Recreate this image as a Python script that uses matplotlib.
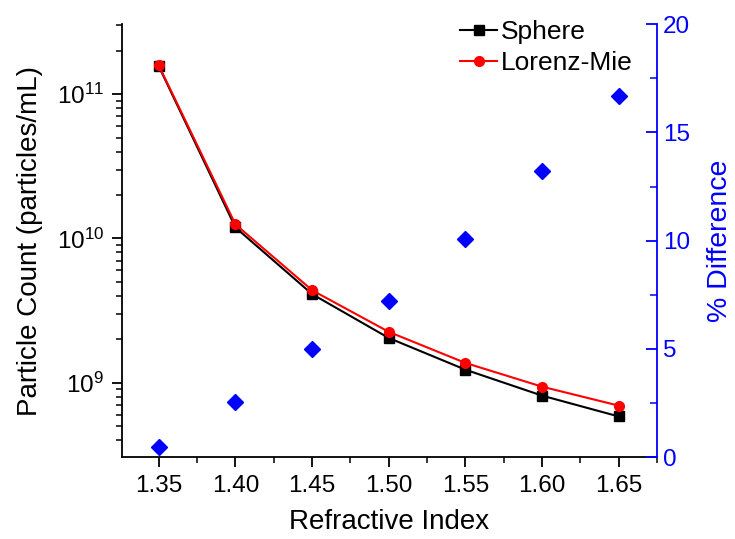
import matplotlib
matplotlib.use("Agg")
import matplotlib.pyplot as plt
from matplotlib.ticker import LogLocator, MultipleLocator, NullFormatter, FixedLocator

plt.rcParams['font.family'] = ['Liberation Sans', 'DejaVu Sans']
plt.rcParams['mathtext.fontset'] = 'custom'
plt.rcParams['mathtext.rm'] = 'Liberation Sans'
plt.rcParams['mathtext.it'] = 'Liberation Sans'
plt.rcParams['mathtext.bf'] = 'Liberation Sans'

ri = [1.35, 1.40, 1.45, 1.50, 1.55, 1.60, 1.65]
sphere = [1.56e11, 1.19e10, 4.11e9, 2.04e9, 1.23e9, 8.13e8, 5.83e8]
lorenz = [1.58e11, 1.25e10, 4.37e9, 2.25e9, 1.37e9, 9.38e8, 6.93e8]
pct_diff = [0.46, 2.54, 4.99, 7.2, 10.07, 13.2, 16.7]
xtick_labels = ["1.35", "1.40", "1.45", "1.50", "1.55", "1.60", "1.65"]

fig = plt.figure(figsize=(7.35, 5.39), dpi=100)
ax = fig.add_axes([0.166, 0.152, 0.728, 0.803])
ax.plot(ri, sphere, color='black', marker='s', markersize=7, lw=1.5, label='Sphere', zorder=3)
ax.plot(ri, lorenz, color='red', marker='o', markersize=7, lw=1.5, label='Lorenz-Mie', zorder=4)
ax.set_yscale('log')
ax.set_ylim(3.05e8, 3.05e11)
ax.set_xlim(1.326, 1.675)
ax.xaxis.set_major_locator(FixedLocator(ri))
ax.set_xticklabels(xtick_labels)
ax.xaxis.set_minor_locator(MultipleLocator(0.025))
ax.yaxis.set_major_locator(LogLocator(base=10, numticks=10))
ax.yaxis.set_minor_locator(LogLocator(base=10, subs=range(2, 10), numticks=20))
ax.yaxis.set_minor_formatter(NullFormatter())
ax.tick_params(axis='both', which='major', direction='out', length=7, width=1.3, labelsize=17.5, pad=6)
ax.tick_params(axis='both', which='minor', direction='out', length=4, width=1.1)
ax.spines['top'].set_visible(False)
ax.spines['right'].set_visible(False)
for s in ['left', 'bottom']:
    ax.spines[s].set_linewidth(1.3)
ax.set_xlabel('Refractive Index', fontsize=20)
ax.xaxis.label.set_va('center')
ax.xaxis.set_label_coords(0.5, -0.150)
ax.set_ylabel('Particle Count (particles/mL)', fontsize=20)
ax.yaxis.label.set_va('center')
ax.yaxis.set_label_coords(-0.172, 0.5)

ax2 = ax.twinx()
ax2.plot(ri, pct_diff, linestyle='none', marker='D', color='blue', markersize=8.5)
ax2.set_ylim(0, 20)
ax2.yaxis.set_major_locator(MultipleLocator(5))
ax2.yaxis.set_minor_locator(MultipleLocator(2.5))
ax2.tick_params(axis='y', which='major', direction='in', length=8, width=1.3, labelsize=17.5, colors='blue', pad=4)
ax2.tick_params(axis='y', which='minor', direction='in', length=5, width=1.1, colors='blue')
ax2.spines['top'].set_visible(False)
ax2.spines['left'].set_visible(False)
ax2.spines['bottom'].set_visible(False)
ax2.spines['right'].set_color('blue')
ax2.spines['right'].set_linewidth(1.3)
ax2.set_ylabel('% Difference', fontsize=20.5, color='blue')
ax2.yaxis.label.set_va('center')
ax2.yaxis.set_label_coords(1.118, 0.5)

leg = ax.legend(loc='upper left', bbox_to_anchor=(0.632, 1.009), frameon=False, fontsize=19,
                handlelength=1.4, handletextpad=0.15, labelspacing=0.25, borderpad=0,
                borderaxespad=0)

fig.savefig('out.png', dpi=100)
